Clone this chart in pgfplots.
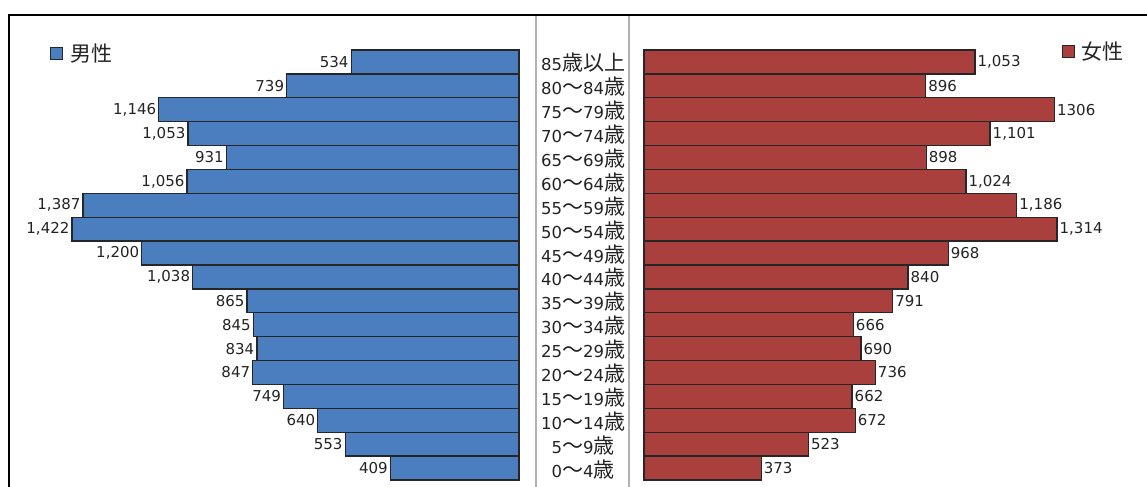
\documentclass[border=0pt]{standalone}
\usepackage{fontspec}
\setmainfont{DejaVu Sans}
\newfontfamily\jp{Noto Sans CJK JP}
\usepackage{pgfplots}
\pgfplotsset{compat=1.18}
\usepackage{pgfplotstable}
\definecolor{mblue}{RGB}{74,126,190}
\definecolor{fred}{RGB}{170,64,62}
\definecolor{labc}{RGB}{35,35,35}
\newcommand\J[1]{{\jp\fontsize{21bp}{22bp}\selectfont #1}}

\pgfplotstableread{
y v lab
0 409 409
1 553 553
2 640 640
3 749 749
4 847 847
5 834 834
6 845 845
7 865 865
8 1038 1,038
9 1200 1,200
10 1422 1,422
11 1387 1,387
12 1056 1,056
13 931 931
14 1053 1,053
15 1146 1,146
16 739 739
17 534 534
}\male

\pgfplotstableread{
y v lab
0 373 373
1 523 523
2 672 672
3 662 662
4 736 736
5 690 690
6 666 666
7 791 791
8 840 840
9 968 968
10 1314 1,314
11 1186 1,186
12 1024 1,024
13 898 898
14 1101 1,101
15 1306 1306
16 896 896
17 1053 1,053
}\female

\pgfplotsset{
  pyr/.style={
    scale only axis, width=502.9bp, height=430bp,
    xmin=0, xmax=1600, ymin=-0.5, ymax=17.5,
    xbar, bar width=23.89bp,
    axis line style={draw=none},
    xtick=\empty,
    major tick length=0pt,
    clip=false,
    nodes near coords,
    point meta=explicit symbolic,
    legend style={draw=none, fill=none, inner sep=0pt,
      font=\jp\fontsize{21bp}{22bp}\selectfont, text=labc,
      legend cell align=left},
    legend image code/.code={\draw[##1, line width=0.8bp] (0bp,-6bp) rectangle (12bp,6bp);
      \path (17bp,0bp);},
  }
}

\begin{document}
\begin{tikzpicture}
\useasboundingbox (0,0) rectangle (1147bp,487bp);
\draw[line width=2.5bp] (9bp,0) -- (9bp,472bp) -- (1147bp,472bp);
\draw[gray!60, line width=1.2bp] (536bp,0) -- (536bp,471bp);
\draw[gray!60, line width=1.2bp] (629bp,0) -- (629bp,471bp);

\begin{axis}[pyr, at={(16.1bp,7bp)}, anchor=south west, x dir=reverse,
  ytick=\empty,
  every node near coord/.append style={anchor=east, inner sep=2bp, text=labc,
    font=\fontsize{15bp}{17bp}\selectfont},
  legend style={at={(0.067,1.02)}, anchor=north west}]
\addplot[fill=mblue, draw=black!85, line width=1.3bp] table[x=v, y=y, meta=lab] {\male};
\addlegendentry{男性}
\end{axis}

\begin{axis}[pyr, at={(644bp,7bp)}, anchor=south west,
  ytick={0,...,17},
  yticklabels={0\J{～}4\J{歳}, 5\J{～}9\J{歳}, 10\J{～}14\J{歳}, 15\J{～}19\J{歳},
    20\J{～}24\J{歳}, 25\J{～}29\J{歳}, 30\J{～}34\J{歳}, 35\J{～}39\J{歳},
    40\J{～}44\J{歳}, 45\J{～}49\J{歳}, 50\J{～}54\J{歳}, 55\J{～}59\J{歳},
    60\J{～}64\J{歳}, 65\J{～}69\J{歳}, 70\J{～}74\J{歳}, 75\J{～}79\J{歳},
    80\J{～}84\J{歳}, 85\J{歳以上}},
  yticklabel style={anchor=center, xshift=-61bp, yshift=-1bp, text=labc,
    font=\fontsize{16.5bp}{18bp}\selectfont},
  every node near coord/.append style={anchor=west, inner sep=2bp, text=labc,
    font=\fontsize{15bp}{17bp}\selectfont},
  legend style={at={(0.83,1.025)}, anchor=north west}]
\addplot[fill=fred, draw=black!85, line width=1.3bp] table[x=v, y=y, meta=lab] {\female};
\addlegendentry{女性}
\end{axis}
\end{tikzpicture}
\end{document}
